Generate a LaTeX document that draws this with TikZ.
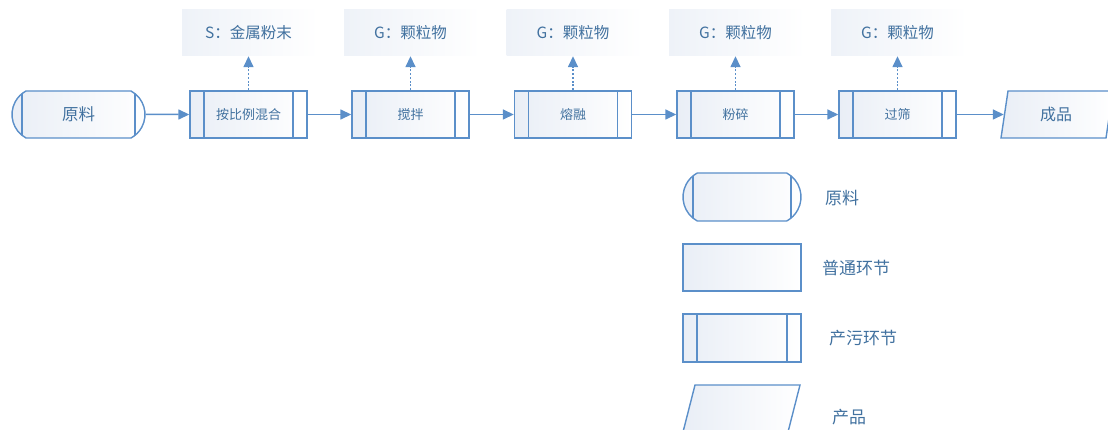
\documentclass[tikz,border=0pt]{standalone}
\usepackage{fontspec}
\setmainfont{Noto Sans CJK SC}
\usetikzlibrary{shapes.misc,arrows.meta}
\definecolor{lb}{HTML}{5B8FC9}
\definecolor{tb}{HTML}{41719F}
\definecolor{fl}{HTML}{E9EEF6}
\definecolor{em}{HTML}{EEF2F8}
\begin{document}
\begin{tikzpicture}[x=1pt,y=-1pt,
  base/.style={draw=lb,line width=1.4pt,minimum width=117pt,minimum height=47pt,inner sep=0pt,
    text=tb,left color=fl,right color=white,font=\fontsize{13}{13}\selectfont},
  bars/.style={path picture={\draw[lb,line width=1.4pt]
    ([xshift=14pt]path picture bounding box.north west) -- ([xshift=14pt]path picture bounding box.south west)
    ([xshift=-14pt]path picture bounding box.north east) -- ([xshift=-14pt]path picture bounding box.south east);}},
  proc/.style={base,rectangle,bars},
  plain/.style={base,rectangle},
  rawbox/.style={base,shape=rounded rectangle,rounded rectangle arc length=123,minimum width=133pt,bars},
  emis/.style={rectangle,minimum width=133pt,minimum height=46pt,inner sep=0pt,left color=em,right color=white!97!em,
    text=tb,font=\fontsize{15.5}{15.5}\selectfont},
  txt/.style={text=tb,inner sep=0pt},
  flow/.style={draw=lb,line width=1.5pt,-{Triangle[length=11pt,width=10pt]}},
  emit/.style={draw=lb,line width=1.5pt,dash pattern=on 2pt off 1.8pt,-{Triangle[length=11pt,width=10pt]}},
  prod/.style={draw=lb,line width=1.4pt,left color=fl,right color=white}
]
\useasboundingbox (0,0) rectangle (1108,430);
\clip (0,0) rectangle (1108,430);
% main chain
\node[rawbox,font=\fontsize{16.5}{16.5}\selectfont] (raw) at (78.5,114.5) {原料};
\node[proc] (p1) at (248.5,114.5) {按比例混合};
\node[proc] (p2) at (410.5,114.5) {搅拌};
\node[proc] (p3) at (573,114.5) {熔融};
\node[proc] (p4) at (735.5,114.5) {粉碎};
\node[proc] (p5) at (897.5,114.5) {过筛};
\draw[prod] (1001,138) -- (1008,91) -- (1113,91) -- (1106,138) -- cycle;
\node[txt,font=\fontsize{16}{16}\selectfont,minimum width=104pt,minimum height=47pt] (prodn) at (1056,114.5) {成品};
% emissions
\node[emis] (e1) at (248.5,33) {S：金属粉末};
\node[emis] (e2) at (410.5,33) {G：颗粒物};
\node[emis] (e3) at (573,33) {G：颗粒物};
\node[emis] (e4) at (735.5,33) {G：颗粒物};
\node[emis] (e5) at (897.5,33) {G：颗粒物};
% connectors
\draw[flow] (raw) -- (p1);
\draw[flow] (p1) -- (p2);
\draw[flow] (p2) -- (p3);
\draw[flow] (p3) -- (p4);
\draw[flow] (p4) -- (p5);
\draw[flow] (p5) -- (prodn);
\foreach \i in {1,...,5} {\draw[emit] (p\i) -- (e\i);}
% legend
\node[rawbox,minimum width=118pt,minimum height=48pt] (l1) at (742,197) {};
\node[plain,minimum width=118pt] (l2) at (742,267.5) {};
\node[proc,minimum width=118pt,minimum height=48pt] (l3) at (742,338) {};
\draw[prod] (683,432) -- (695,385) -- (800,385) -- (788,432) -- cycle;
\node[txt,font=\fontsize{17}{17}\selectfont,anchor=west] (t1) at (825,198) {原料};
\node[txt,font=\fontsize{17}{17}\selectfont,anchor=west] (t2) at (822,268) {普通环节};
\node[txt,font=\fontsize{17}{17}\selectfont,anchor=west] (t3) at (829,338) {产污环节};
\node[txt,font=\fontsize{17}{17}\selectfont,anchor=west] (t4) at (832,417) {产品};
\end{tikzpicture}
\end{document}
